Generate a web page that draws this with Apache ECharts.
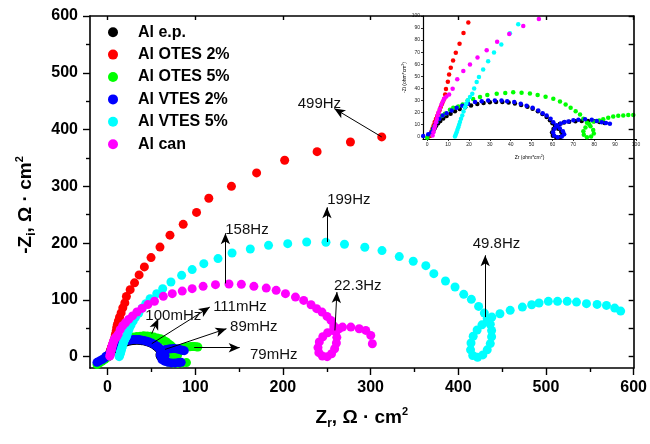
<!DOCTYPE html>
<html><head><meta charset="utf-8">
<script src="https://cdn.jsdelivr.net/npm/echarts@6.0.0/dist/echarts.min.js"></script>
<style>html,body{margin:0;padding:0;background:#fff}#c{width:650px;height:444px}</style>
</head><body><div id="c"></div>
<script>
const FF = 'Liberation Sans, Arial, sans-serif';
const seriesNames = ['Al e.p.', 'Al OTES 2%', 'Al OTES 5%', 'Al VTES 2%', 'Al VTES 5%', 'Al can'];
const seriesColors = ['#000000', '#ff0000', '#00ff00', '#0000ff', '#00ffff', '#ff00ff'];

const alEp = [[0.5,0],[1.5,1],[2.3,3],[3,5],[3.6,7],[4.3,9],[5.2,11],[6.3,13],[7.7,15],[9.3,17],[11.2,19],[13.3,21],[15.6,22.8],[18.2,24.4],[21,25.8],[24,27],[27,27.8],[30,28.4],[33,28.7],[36,28.6],[39,28.2],[42,27.4],[45,26.2],[48,24.7],[50.5,23],[53,21],[55.2,18.7],[57.2,16.2],[58.8,13.6],[60,11],[61.2,8.8],[62.8,6.5],[64.2,4],[64.8,1.5],[63.8,-0.4],[61.8,-0.8],[60.2,0.6],[59.8,3.3],[60.5,6.2],[61.8,8.7],[63.5,10.5],[65.5,11.6],[68,12.3],[71,12.8],[74,13],[77,13],[80,12.7],[82.5,12],[85,11.3]];

const alOtes2 = [[1.2,0.5],[1.6,2.2],[2.1,4.5],[2.6,7],[3.1,9.5],[3.6,12],[4.2,14.5],[4.8,17],[5.4,19.5],[6,22],[6.5,24.5],[7.1,27],[7.6,29],[8.2,31.4],[8.6,35],[9,39.5],[9.9,45.5],[10.5,51.5],[11.3,57],[12.4,63],[13.7,69.5],[15.5,77],[17.4,86],[19.7,94.6],[21.5,106],[25.8,118],[30.8,130],[36,144],[42,158],[49.6,174.5],[59.8,193],[71.2,214],[86.3,233],[101.5,254],[115.5,279],[141.3,300],[170,323.6],[202,346],[239,361],[277,378],[312.7,387]];

const alOtes5 = [[-12,-14],[-9,-11],[-6,-8],[-3,-4.5],[0,-1],[1.5,2],[2.5,5],[3.5,8.5],[4.5,12],[5.5,14.5],[7,17],[8.5,19],[10.9,22.2],[12.5,23.9],[14.9,25],[17,26.7],[19.4,30],[22,31.1],[25.3,32.8],[28.8,34.4],[33.3,35.6],[37.4,36.1],[41.2,36.7],[45.2,36.4],[49.2,35.8],[52.9,34.4],[56.7,33],[60.4,31.4],[63.6,29.2],[66.3,26.7],[68.7,23.9],[71.1,21.1],[73.2,18.3],[74.8,14.7],[76.5,11.5],[78.2,8.5],[79.5,5.5],[79.8,2.5],[78.5,0],[76.5,-0.5],[75,1.5],[74.8,4.5],[75.8,7.5],[77.5,10.5],[79.5,12.5],[82.4,13.3],[84.3,14.4],[86.7,15.6],[89.1,16.7],[91.5,17.2],[93.9,17.5],[96.3,17.8],[98.7,17.8],[101,17.5],[103,17],[66,-8],[70,-10],[75,-11],[80,-11.5],[85,-11],[90,-10.5]];

const alVtes2 = [[-12,-10],[-9,-7.5],[-6,-5],[-3.5,-2.5],[-1.9,0.5],[0.5,2],[2.1,3.6],[2.9,6.4],[3.7,9.2],[4.5,11.9],[5.8,14.7],[7.4,17.5],[9.3,19.4],[11.7,21.7],[14.1,23.9],[16.8,25.6],[19.6,27.2],[22.9,28.6],[26.1,29.4],[29.2,30],[32.4,30],[35.6,30],[38.3,29.4],[41.7,28.6],[44.8,27.2],[47.6,25.6],[50.5,23.9],[53.2,21.7],[55.3,19.4],[57.2,17.5],[59.1,14.7],[60.4,11.9],[61.8,9.5],[63.5,7],[65,4.5],[65.6,2],[64.5,0],[62.5,-0.6],[60.8,0.8],[60.3,3.5],[61,6.5],[62.3,9],[64,10.8],[65.8,12],[67.6,12.5],[70,13.6],[72.4,13.9],[75.6,14.3],[78.8,13.9],[81.2,13],[83.6,11.9],[85.6,11.2],[87.5,10.6],[62,-5],[65,-8],[69,-10],[73,-11],[77,-11],[81,-10.5],[84,-10]];

const alVtes5 = [[13.3,0],[13.7,1.8],[14.1,3.6],[14.5,5.7],[14.9,7.8],[15.3,9.9],[15.7,12],[16.2,14.7],[16.8,17.5],[17.4,20.9],[18.1,24.4],[18.7,27.2],[19.4,30],[20.5,32.8],[21.6,35.6],[22.5,39.8],[23.7,45.3],[24.8,49.4],[26.8,55.6],[29.2,62.5],[32,69.8],[35.5,76.4],[39.6,85.6],[43.6,93.1],[48.5,102.1],[56.1,110.9],[62.9,119.8],[72.3,131.4],[84.5,143.2],[96.5,153.3],[109.8,163.8],[126,172.7],[142,182.5],[162.8,189.6],[183.6,196],[205.5,199],[227.1,202],[249.1,201.4],[270.2,197.9],[293.4,192.6],[313,186.8],[332.7,176.2],[348.6,168],[363,160.3],[372.1,146.2],[385.4,133.2],[396.3,122.6],[406.2,109.7],[414.9,100.9],[423.2,88.5],[429.7,76.7],[433,67],[436.5,57],[438,46],[438,35],[436.5,23],[433,12],[428,3],[422,-1],[416.5,2],[414,12],[414.5,24],[417,36],[421.5,47],[427,56],[433,63],[438.3,69.7],[447.5,75.5],[459.2,81.5],[473.1,87.3],[483.7,91.5],[492.1,94.4],[502.7,97.4],[513.2,97.4],[524.2,97.4],[534.8,96.1],[546.2,93.3],[558.3,92],[569,90.3],[578.4,85.5],[585.2,80.2]];

const alCan = [[2.6,0.8],[3,3.5],[3.4,6.4],[3.8,9],[4.2,11.9],[4.6,14.5],[5,17.5],[5.5,20.2],[6.1,23],[6.8,26.5],[7.5,29],[8.1,31.4],[9.2,33.2],[10.5,35],[12.2,39.7],[14.4,47.5],[17.3,54.4],[20.5,59.7],[24.1,65.6],[28.5,71.7],[33.5,78.6],[39.3,85],[46,91.7],[53.5,97.5],[63.6,106.2],[73.8,110.9],[85.2,115.5],[96.5,119.8],[109,123.8],[123.1,126.8],[138.5,127.9],[152.6,127.3],[166.9,123.8],[181,120.8],[192.3,116.8],[202.9,110.9],[214.3,104.9],[223.7,99.1],[232.1,91.5],[238.5,84.5],[244.6,78.5],[250.3,70.9],[254.8,63.8],[258,54],[260.5,44],[261.5,34],[261,24],[259,14],[255.5,5],[250.5,0],[245,1],[241,7],[240,16],[241.5,26],[245.5,35],[251,42],[257.5,46],[264,49],[268,52],[277.5,52],[287,49.2],[294.5,46.2],[300.2,37.4],[302,22.8]];

const seriesData = [alEp, alOtes2, alOtes5, alVtes2, alVtes5, alCan];

// tick values (tick labels)
const xMajorTicks = [0, 100, 200, 300, 400, 500, 600];
const xMinorTicks = [50, 150, 250, 350, 450, 550];
const yMajorTicks = [0, 100, 200, 300, 400, 500, 600];
const yMinorTicks = [50, 150, 250, 350, 450, 550];
const yRightTicks = [0, 50, 100, 150, 200, 250, 300, 350, 400, 450, 500, 550, 600];
const insetTicks = [0, 10, 20, 30, 40, 50, 60, 70, 80, 90, 100];

// annotations: arrow start (data point), arrow tip, label text, label centre
const annText = ['499Hz', '199Hz', '158Hz', '49.8Hz', '22.3Hz', '100mHz', '111mHz', '89mHz', '79mHz'];
const arrowFrom = [[312.7,387],[250.2,202],[134.4,129],[430.7,69.7],[259.3,46.2],[50.4,40.4],[50.4,22.8],[65.5,12.7],[98.8,15.7]];
const arrowTo = [[258.5,437],[250.2,263],[134.4,217.3],[430.7,178.5],[261.6,113.8],[57.9,66.8],[116.6,87.3],[135.6,49.2],[150.7,15.7]];
const annAt = [[241.6,444.5],[275.2,275.5],[159,222.6],[443.6,199.1],[285.4,123.8],[75,72.7],[151,87.3],[166.8,53.3],[189.5,3.4]];

const lineS = {color: '#000', width: 1.6};
const tickS = {color: '#000', width: 1.4};
const richTitle = {
  b: {fontSize: 19, fontWeight: 'bold', fontFamily: FF, color: '#000', lineHeight: 24},
  sub: {fontSize: 12, fontWeight: 'bold', fontFamily: FF, color: '#000', lineHeight: 12, verticalAlign: 'bottom'},
  sup: {fontSize: 11, fontWeight: 'bold', fontFamily: FF, color: '#000', lineHeight: 12, verticalAlign: 'top'}
};
const richSmall = {
  t: {fontSize: 5, fontFamily: FF, color: '#000', lineHeight: 7},
  s: {fontSize: 3.5, fontFamily: FF, color: '#000', lineHeight: 4, verticalAlign: 'top'}
};
const labelMain = {fontSize: 16, fontWeight: 'bold', color: '#000', fontFamily: FF};

const mainRange = {min: -20, max: 600};
const insetRange = {min: -2, max: 100};

const series = [];
seriesNames.forEach((n, i) => {
  series.push({type: 'scatter', name: n, data: seriesData[i], xAxisIndex: 0, yAxisIndex: 0,
    symbol: 'circle', symbolSize: 9, itemStyle: {color: seriesColors[i], opacity: 1}, z: 2 + i * 0.01});
});
seriesNames.forEach((n, i) => {
  series.push({type: 'scatter', name: n, data: seriesData[i], xAxisIndex: 3, yAxisIndex: 3,
    symbol: 'circle', symbolSize: 4.5, itemStyle: {color: seriesColors[i], opacity: 1}, z: 12 + i * 0.01});
});
series.push({
  type: 'scatter', name: 'annotations', data: [], xAxisIndex: 0, yAxisIndex: 0, z: 5,
  markLine: {
    silent: true, animation: false, symbol: ['none', 'arrow'], symbolSize: [7, 11],
    lineStyle: {color: '#000', width: 1, type: 'solid'}, label: {show: false},
    emphasis: {disabled: true},
    data: arrowFrom.map((p, i) => [{coord: p}, {coord: arrowTo[i]}])
  },
  markPoint: {
    silent: true, animation: false, symbol: 'circle', symbolSize: 1,
    itemStyle: {color: 'rgba(0,0,0,0)'},
    label: {show: true, position: 'inside', formatter: p => p.name, fontSize: 15, color: '#111', fontFamily: FF},
    data: annText.map((t, i) => ({name: t, coord: annAt[i]}))
  }
});

const option = {
  animation: false,
  backgroundColor: '#fff',
  grid: [
    {left: 90, top: 16, right: 14, bottom: 76},
    {left: 423, top: 16, right: 14, bottom: 305, show: true, backgroundColor: '#fff', borderWidth: 0, z: 10}
  ],
  legend: {
    data: seriesNames, orient: 'vertical', left: 108, top: 21, padding: 0, itemGap: 0,
    itemWidth: 10, itemHeight: 10, icon: 'circle', selectedMode: false,
    textStyle: {fontSize: 16, fontWeight: 'bold', color: '#000', fontFamily: FF, lineHeight: 22.4, padding: [0, 0, 0, 15]}
  },
  xAxis: [
    Object.assign({type: 'value', gridIndex: 0, position: 'bottom',
      axisLine: {show: true, onZero: false, lineStyle: lineS},
      axisTick: {show: true, inside: false, length: 7, customValues: xMajorTicks, lineStyle: tickS},
      axisLabel: Object.assign({customValues: xMajorTicks, margin: 12}, labelMain),
      splitLine: {show: false},
      name: '{b|Z}{sub|r}{b|, Ω · cm}{sup|2}', nameLocation: 'middle', nameGap: 38,
      nameTextStyle: {rich: richTitle}}, mainRange),
    Object.assign({type: 'value', gridIndex: 0, position: 'bottom',
      axisLine: {show: false, onZero: false},
      axisTick: {show: true, inside: false, length: 4, customValues: xMinorTicks, lineStyle: tickS},
      axisLabel: {show: false}, splitLine: {show: false}}, mainRange),
    Object.assign({type: 'value', gridIndex: 0, position: 'top', z: 15,
      axisLine: {show: true, onZero: false, lineStyle: lineS},
      axisTick: {show: true, inside: true, length: 4, customValues: xMajorTicks, lineStyle: tickS},
      axisLabel: {show: false}, splitLine: {show: false}}, mainRange),
    Object.assign({type: 'value', gridIndex: 1, position: 'bottom', z: 12,
      axisLine: {show: true, onZero: false, lineStyle: {color: '#000', width: 1.2}},
      axisTick: {show: true, inside: false, length: 2, customValues: insetTicks, lineStyle: {color: '#000', width: 0.8}},
      axisLabel: {customValues: insetTicks, fontSize: 5, color: '#222', fontFamily: FF, margin: 3},
      splitLine: {show: false},
      name: '{t|Zr (ohm*cm}{s|2}{t|)}', nameLocation: 'middle', nameGap: 15,
      nameTextStyle: {rich: richSmall}}, insetRange)
  ],
  yAxis: [
    Object.assign({type: 'value', gridIndex: 0, position: 'left',
      axisLine: {show: true, onZero: false, lineStyle: lineS},
      axisTick: {show: true, inside: false, length: 7, customValues: yMajorTicks, lineStyle: tickS},
      axisLabel: Object.assign({customValues: yMajorTicks, margin: 12}, labelMain),
      splitLine: {show: false},
      name: '{b|-Z}{sub|i}{b|, Ω · cm}{sup|2}', nameLocation: 'middle', nameRotate: 90, nameGap: 52,
      nameTextStyle: {rich: richTitle, padding: [0, 26, 0, 0]}}, mainRange),
    Object.assign({type: 'value', gridIndex: 0, position: 'left',
      axisLine: {show: false, onZero: false},
      axisTick: {show: true, inside: false, length: 4, customValues: yMinorTicks, lineStyle: tickS},
      axisLabel: {show: false}, splitLine: {show: false}}, mainRange),
    Object.assign({type: 'value', gridIndex: 0, position: 'right', z: 15,
      axisLine: {show: true, onZero: false, lineStyle: lineS},
      axisTick: {show: true, inside: true, length: 5, customValues: yRightTicks, lineStyle: tickS},
      axisLabel: {show: false}, splitLine: {show: false}}, mainRange),
    Object.assign({type: 'value', gridIndex: 1, position: 'left', z: 12,
      axisLine: {show: true, onZero: false, lineStyle: {color: '#000', width: 1.2}},
      axisTick: {show: true, inside: false, length: 2, customValues: insetTicks, lineStyle: {color: '#000', width: 0.8}},
      axisLabel: {customValues: insetTicks, fontSize: 5, color: '#222', fontFamily: FF, margin: 3},
      splitLine: {show: false},
      name: '{t|-Zi (ohm*cm}{s|2}{t|)}', nameLocation: 'middle', nameRotate: 90, nameGap: 15,
      nameTextStyle: {rich: richSmall}}, insetRange)
  ],
  series: series
};

const chart = echarts.init(document.getElementById('c'), null, {renderer: 'canvas'});
chart.setOption(option);
</script>
</body></html>
